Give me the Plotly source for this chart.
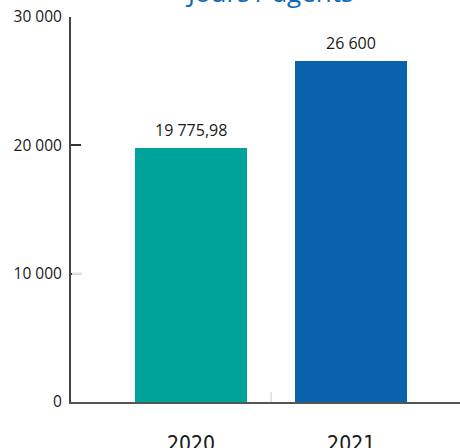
import plotly.graph_objects as go

categories = ["2020", "2021"]
values = [19775.98, 26600]
value_labels = ["19 775,98", "26 600"]
bar_colors = ["#00A39A", "#0A62AD"]
y_tickvals = [0, 10000, 20000, 30000]
y_ticktext = ["0", "10 000", "20 000", "30 000"]
title_text = "Jours / agents"

fig = go.Figure()
fig.add_trace(go.Bar(
    x=[0, 1], y=values, width=0.7,
    marker=dict(color=bar_colors, line=dict(width=0)),
    cliponaxis=False, hoverinfo="skip",
))
for i, (v, lab) in enumerate(zip(values, value_labels)):
    fig.add_annotation(x=i, y=v, text=lab, xref="x", yref="y", showarrow=False,
                       xanchor="center", yanchor="bottom", yshift=5,
                       font=dict(family="Open Sans", size=16, color="#1a1a1a"))

fig.update_layout(
    width=460, height=448,
    margin=dict(l=71, r=0, t=17, b=46, autoexpand=False),
    plot_bgcolor="white", paper_bgcolor="white",
    showlegend=False, bargap=0,
    font=dict(family="Open Sans", color="#1a1a1a"),
)
fig.update_xaxes(
    range=[-0.75, 1.68], tickvals=[0, 1], ticktext=categories, automargin=False,
    showgrid=False, zeroline=False, showline=True, linecolor="#555555", linewidth=2,
    ticks="", ticklabelstandoff=22,
    tickfont=dict(family="DejaVu Sans Condensed, Liberation Sans", size=21, color="#1a1a1a"),
)
fig.update_yaxes(
    range=[0, 30000], tickvals=y_tickvals, ticktext=y_ticktext, automargin=False,
    showgrid=False, zeroline=False, showline=True, linecolor="#444444", linewidth=2,
    ticks="inside", ticklen=10, tickwidth=1.5, tickcolor="#333333",
    ticklabelstandoff=4,
    tickfont=dict(family="Open Sans", size=15.5, color="#1a1a1a"),
)
fig.add_shape(type="line", x0=0.5, x1=0.5, xref="x", yref="paper", y0=0, y1=0.026,
              line=dict(color="#dddddd", width=1.5))
fig.add_shape(type="line", xref="x", yref="y", xsizemode="pixel", xanchor=-0.75,
              x0=1, x1=11, y0=y_tickvals[1], y1=y_tickvals[1], layer="above",
              line=dict(color="#e4e4e4", width=2.5))
fig.add_annotation(text=title_text, xref="paper", yref="paper", x=0.51, y=1,
                   xanchor="center", yanchor="bottom", yshift=5, showarrow=False,
                   font=dict(family="Open Sans", size=26, color="#0A6AB8"))

fig.write_html("out.html", config={"displayModeBar": False},
               post_script="document.body.style.margin='0';document.body.style.overflow='hidden';")
